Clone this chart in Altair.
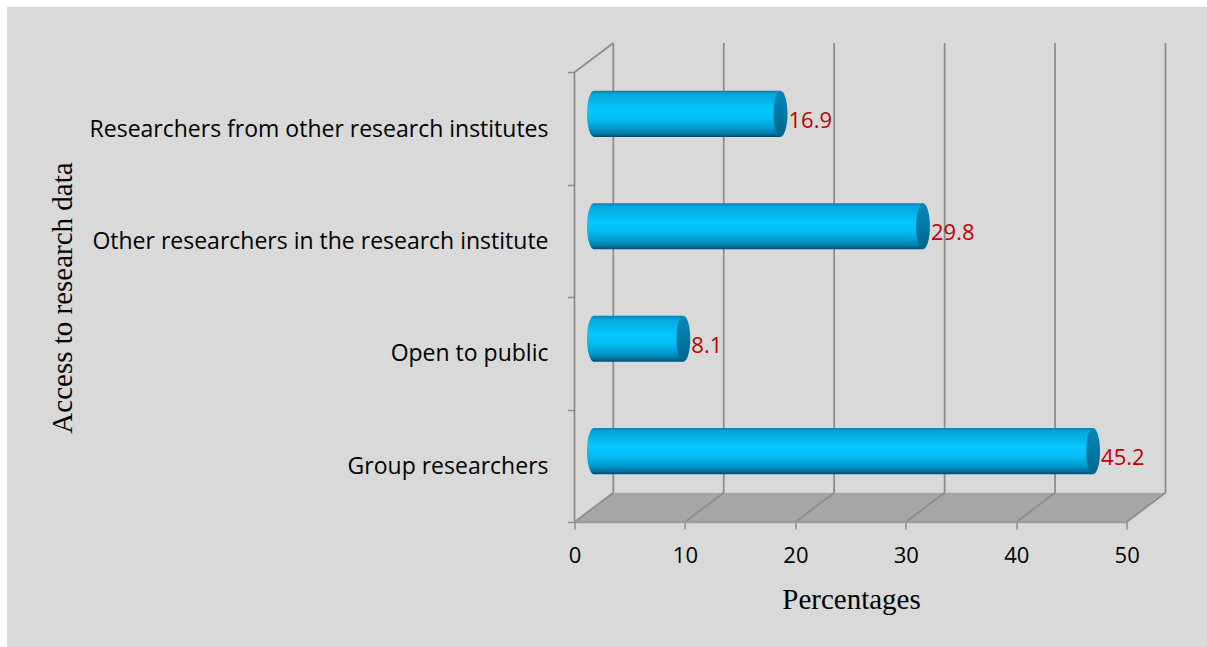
import altair as alt
import pandas as pd

# ---------------- data ----------------
categories = [
    "Researchers from other research institutes",
    "Other researchers in the research institute",
    "Open to public",
    "Group researchers",
]
values = [16.9, 29.8, 8.1, 45.2]
x_ticks = [0, 10, 20, 30, 40, 50]
x_title = "Percentages"
y_title = "Access to research data"

# ---------------- layout constants ----------------
W, H = 591, 479
PAD_L, PAD_T = 574.5, 43
X_MAX = 50
FRONT_W = 552.2
FRONT_H = 449.7
N = len(categories)
D = X_MAX * (W / FRONT_W - 1)      # depth of the 3-D box in x units
d = N * (H / FRONT_H - 1)          # depth of the 3-D box in y units
BAR_HALF = 0.205                   # half thickness of a cylinder (band units)
PX_Y = H / (N + d)
CAP_SIZE = (2 * BAR_HALF * PX_Y) ** 2
ELLIPSE = "M0,-1 A0.3,1 0 1,1 0,1 A0.3,1 0 1,1 0,-1 Z"

LABEL_FONT = "Open Sans"
TITLE_FONT = "Liberation Serif"
GRID = "#8c8c8c"

rows = []
for i, (c, v) in enumerate(zip(categories, values)):
    pos = N - 1 - i
    yc = pos + 0.5 + d / 2
    rows.append(dict(cat=c, value=v, ylab=pos + 0.5, yc=yc,
                     y0=yc - BAR_HALF, y1=yc + BAR_HALF,
                     x0=D / 2, x1=v + D / 2, label=f"{v:.1f}"))
bars = pd.DataFrame(rows)

frame_rows = []
for t in x_ticks:
    frame_rows.append(dict(x=t + D, x2=t + D, y=d, y2=N + d))   # back wall grid
    frame_rows.append(dict(x=t, x2=t + D, y=0, y2=d))           # floor diagonals
frame_rows.append(dict(x=0, x2=D, y=N, y2=N + d))               # left wall top edge
frame_rows.append(dict(x=0, x2=0, y=0, y2=N))                   # front left edge
frame = pd.DataFrame(frame_rows)

front_edge = pd.DataFrame([dict(x=0, x2=X_MAX, y=0)])

floor = pd.DataFrame(dict(
    x=[0, D, X_MAX, X_MAX + D],
    lo=[0, 0, 0, d],
    hi=[0, d, d, d],
))

# ---------------- scales & axes ----------------
xs = alt.Scale(domain=[0, X_MAX + D], nice=False, zero=False)
ys = alt.Scale(domain=[0, N + d], nice=False, zero=False)

xaxis = alt.Axis(values=x_ticks, title=x_title, domain=False, grid=False, zindex=1,
                 labelFont=LABEL_FONT, labelFontSize=22, labelColor="black",
                 labelPadding=16, labelFlush=False, labelOverlap=False,
                 tickSize=7, tickColor=GRID, tickWidth=1.5,
                 titleFont=TITLE_FONT, titleFontSize=29, titleFontWeight="normal",
                 titleColor="black", titleX=276.5, titleY=86.5,
                 titleBaseline="alphabetic", titleAlign="center")
yaxis = alt.Axis(values=list(range(N + 1)), title=y_title, domain=False, grid=False, zindex=1,
                 labels=False, tickSize=7, tickColor=GRID, tickWidth=1.5,
                 titleFont=TITLE_FONT, titleFontSize=29, titleFontWeight="normal",
                 titleColor="black", titleX=71.5 - PAD_L, titleY=297.5 - PAD_T,
                 titleBaseline="alphabetic", titleAlign="center", titleAngle=270)


def X(f):
    return alt.X(f, type="quantitative", scale=xs, axis=xaxis)


def Y(f):
    return alt.Y(f, type="quantitative", scale=ys, axis=yaxis)


body_grad = alt.Gradient(
    gradient="linear", x1=0, x2=0, y1=0, y2=1,
    stops=[
        alt.GradientStop(color="#0a7fae", offset=0),
        alt.GradientStop(color="#05a6dc", offset=0.07),
        alt.GradientStop(color="#05c8ff", offset=0.42),
        alt.GradientStop(color="#02bcf3", offset=0.62),
        alt.GradientStop(color="#0098cb", offset=0.82),
        alt.GradientStop(color="#00709b", offset=0.94),
        alt.GradientStop(color="#004b6b", offset=1),
    ],
)
cap_grad = alt.Gradient(
    gradient="linear", x1=0, x2=0, y1=0, y2=1,
    stops=[
        alt.GradientStop(color="#0a86b4", offset=0),
        alt.GradientStop(color="#0079a5", offset=0.5),
        alt.GradientStop(color="#00648c", offset=1),
    ],
)

# ---------------- layers ----------------
bg = alt.Chart(pd.DataFrame({"a": [0]})).mark_rect(color="#d9d9d9").encode(
    x=alt.value(7 - PAD_L), x2=alt.value(1207 - PAD_L),
    y=alt.value(7 - PAD_T), y2=alt.value(647 - PAD_T),
)

floor_layer = alt.Chart(floor).mark_area(color="#a6a6a6", orient="vertical", opacity=1).encode(
    x=X("x"), y=Y("lo"), y2="hi",
)

frame_layer = alt.Chart(frame).mark_rule(color=GRID, strokeWidth=1.75).encode(
    x=X("x"), x2="x2", y=Y("y"), y2="y2",
)

edge_layer = alt.Chart(front_edge).mark_rule(color="#9c9c9c", strokeWidth=2.5).encode(
    x=X("x"), x2="x2", y=Y("y"),
)

cat_labels = alt.Chart(bars).mark_text(
    align="right", baseline="middle", font=LABEL_FONT, fontSize=23, color="black", dy=1,
).encode(x=alt.value(-26), y=Y("ylab"), text="cat:N")

left_caps = alt.Chart(bars).mark_point(
    shape=ELLIPSE, filled=True, size=CAP_SIZE, fill=body_grad, opacity=1, strokeWidth=0,
).encode(x=X("x0"), y=Y("yc"))

bodies = alt.Chart(bars).mark_rect(fill=body_grad, strokeWidth=0).encode(
    x=X("x0"), x2="x1", y=Y("y0"), y2="y1",
)

right_caps = alt.Chart(bars).mark_point(
    shape=ELLIPSE, filled=True, size=CAP_SIZE, fill=cap_grad, opacity=1, strokeWidth=0,
).encode(x=X("x1"), y=Y("yc"))

value_labels = alt.Chart(bars).mark_text(
    align="left", baseline="middle", dx=8, dy=7, font=LABEL_FONT, fontSize=22, color="#c00000",
).encode(x=X("x1"), y=Y("yc"), text="label:N")

chart = alt.layer(
    bg, floor_layer, frame_layer, edge_layer, cat_labels,
    left_caps, bodies, right_caps, value_labels,
).properties(
    width=W, height=H,
    autosize=alt.AutoSizeParams(type="none"),
    padding={"left": PAD_L, "top": PAD_T, "right": 1207 - PAD_L - W, "bottom": 647 - PAD_T - H},
    background="white",
).configure_view(stroke=None)

chart.save("out.html", embed_options={"renderer": "svg", "actions": False})
